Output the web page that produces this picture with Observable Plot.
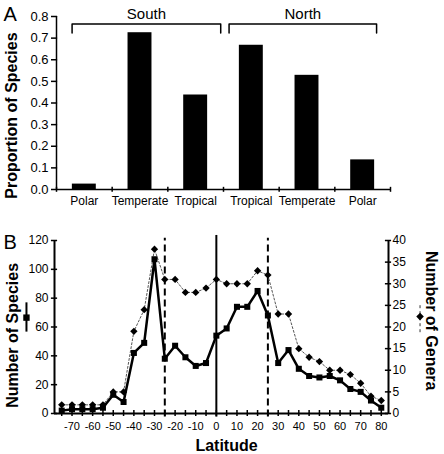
<!DOCTYPE html>
<html><head><meta charset="utf-8">
<script src="https://cdn.jsdelivr.net/npm/d3@7"></script>
<script src="https://cdn.jsdelivr.net/npm/@observablehq/plot@0.6"></script>
<style>body{margin:0;background:#fff} svg{display:block}</style>
</head><body><div id="chart"></div>
<script>
// Panel A data
const regions = ["Polar", "Temperate", "Tropical", "Tropical", "Temperate", "Polar"];
const hemispheres = ["South", "North"];
const proportions = [0.025, 0.725, 0.437, 0.667, 0.528, 0.137];
const propTicks = [0, 0.1, 0.2, 0.3, 0.4, 0.5, 0.6, 0.7, 0.8];

// Panel B data
const latitudes = [-75, -70, -65, -60, -55, -50, -45, -40, -35, -30, -25, -20, -15, -10, -5, 0, 5, 10, 15, 20, 25, 30, 35, 40, 45, 50, 55, 60, 65, 70, 75, 80];
const species = [2, 3, 3, 3, 4, 13, 8, 42, 49, 107, 38, 47, 39, 33, 35, 54, 59, 74, 74, 85, 68, 35, 44, 31, 26, 25, 26, 23, 17, 15, 9, 4];
const genera = [2, 2, 2, 2, 2, 5, 5, 19, 24, 38, 31, 31, 28, 28, 29, 31, 30, 30, 30, 33, 32, 23, 23, 15, 13, 12, 10, 10, 9, 7, 4, 3];
const speciesTicks = [0, 20, 40, 60, 80, 100, 120];
const generaTicks = [0, 5, 10, 15, 20, 25, 30, 35, 40];
const latLabels = [-70, -60, -50, -40, -30, -20, -10, 0, 10, 20, 30, 40, 50, 60, 70, 80];
const latTicks = [-75, -70, -65, -60, -55, -50, -45, -40, -35, -30, -25, -20, -15, -10, -5, 0, 5, 10, 15, 20, 25, 30, 35, 40, 45, 50, 55, 60, 65, 70, 75, 80];
const tropicLines = [-25, 25];

const font = "'Liberation Sans', Arial, Helvetica, sans-serif";
const black = "#000";

// ---------- Panel A ----------
const bars = regions.map((r, i) => ({i, region: r, value: proportions[i]}));
const brackets = [
  {h: hemispheres[0], x1: 0.28, x2: 2.95},
  {h: hemispheres[1], x1: 3.1, x2: 5.75}
];
const bracketPts = brackets.flatMap(b => [[b.x1, 0.724], [b.x1, 0.765], [b.x2, 0.765], [b.x2, 0.724]].map(([x, y]) => ({h: b.h, x, y})));

const A = Plot.plot({
  width: 444, height: 225,
  marginLeft: 56, marginRight: 54, marginTop: 16, marginBottom: 36,
  style: {fontFamily: font, fontSize: "12px", color: black, background: "#fff", overflow: "visible"},
  x: {domain: [0, 6], axis: null},
  y: {domain: [0, 0.8], axis: null},
  marks: [
    Plot.rectY(bars, {x1: d => d.i + 0.285, x2: d => d.i + 0.715, y: "value", fill: black}),
    Plot.ruleX([0], {y1: 0, y2: 0.8, stroke: black, strokeWidth: 1.5}),
    Plot.ruleY([0], {x1: 0, x2: 6, stroke: black, strokeWidth: 1.5}),
    Plot.ruleX(d3.range(7), {y1: -0.013, y2: 0.01, stroke: black, strokeWidth: 1.5}),
    Plot.ruleY(propTicks, {x1: -0.09, x2: 0.02, stroke: black, strokeWidth: 1.5}),
    Plot.axisY({ticks: propTicks, label: null, tickSize: 0, tickPadding: 8, tickFormat: d3.format(".1f"), fontSize: 13}),
    Plot.axisX({ticks: regions.map((r, i) => i + 0.5), label: null, tickSize: 0, tickPadding: 7, tickFormat: d => regions[Math.floor(d)], fontSize: 12}),
    Plot.line(bracketPts, {x: "x", y: "y", z: "h", stroke: black, strokeWidth: 1.5}),
    Plot.text(brackets, {x: d => (d.x1 + d.x2) / 2, y: 0.8, text: "h", fontSize: 15, lineAnchor: "bottom", dy: 2}),
    Plot.text(["Proportion of Species"], {frameAnchor: "left", text: d => d, rotate: -90, dx: -40, dy: 12.5, fontWeight: "bold", fontSize: 16, lineAnchor: "bottom", textAnchor: "middle"}),
    Plot.text(["A"], {frameAnchor: "top-left", text: d => d, dx: -53, dy: 4, fontSize: 20, lineAnchor: "bottom", textAnchor: "start"})
  ]
});

// ---------- Panel B ----------
const spData = latitudes.map((lat, i) => ({lat, n: species[i]}));
const geData = latitudes.map((lat, i) => ({lat, n: genera[i]}));
const xMin = -78.5, xMax = 83.5;
const ratio = 120 / 40; // right axis (genera) mapped onto species scale

const B = Plot.plot({
  width: 444, height: 229,
  marginLeft: 54, marginRight: 56, marginTop: 15, marginBottom: 41,
  style: {fontFamily: font, fontSize: "12px", color: black, background: "#fff", overflow: "visible"},
  x: {domain: [xMin, xMax], axis: null},
  y: {domain: [0, 120], axis: null},
  marks: [
    Plot.ruleX([0], {y1: -2.5, y2: 123.5, stroke: black, strokeWidth: 2}),
    Plot.ruleX(tropicLines, {y1: -2.5, y2: 121.5, stroke: black, strokeWidth: 2, strokeDasharray: "7,4"}),
    Plot.line(geData, {x: "lat", y: d => d.n * ratio, stroke: "#555", strokeWidth: 1, strokeDasharray: "2,2"}),
    Plot.dot(geData, {x: "lat", y: d => d.n * ratio, symbol: "diamond2", r: 3.3, fill: black, stroke: "none"}),
    Plot.line(spData, {x: "lat", y: "n", stroke: black, strokeWidth: 2.5}),
    Plot.dot(spData, {x: "lat", y: "n", symbol: "square", r: 3.4, fill: black, stroke: "none"}),
    // frame
    Plot.ruleX([xMin, xMax], {y1: 0, y2: 120, stroke: black, strokeWidth: 2}),
    Plot.ruleY([0], {x1: xMin, x2: xMax, stroke: black, strokeWidth: 2}),
    Plot.ruleY(speciesTicks, {x1: xMin - 1.5, x2: xMin + 1.5, stroke: black, strokeWidth: 1.5}),
    Plot.ruleY(generaTicks.map(g => g * ratio), {x1: xMax - 1.5, x2: xMax + 1.5, stroke: black, strokeWidth: 1.5}),
    Plot.ruleX(latTicks, {y1: -2.1, y2: 2.1, stroke: black, strokeWidth: 1.5}),
    Plot.axisY({ticks: speciesTicks, label: null, tickSize: 0, tickPadding: 6, fontSize: 12, tickFormat: d => String(d)}),
    Plot.axisY({anchor: "right", label: null, ticks: generaTicks.map(g => g * ratio), tickFormat: d => String(d / ratio), tickSize: 0, tickPadding: 4, fontSize: 12}),
    Plot.axisX({ticks: latLabels, label: null, tickSize: 0, tickPadding: 9, fontSize: 11, tickFormat: d => String(d)}),
    // legend glyphs beside axis titles
    Plot.link([0], {x1: -92.1, x2: -92.1, y1: 56.8, y2: 77.1, stroke: black, strokeWidth: 2}),
    Plot.dot([0], {x: -92.1, y: 66.5, symbol: "square", r: 3.6, fill: black, stroke: "none"}),
    Plot.link([0], {x1: 98.8, x2: 98.8, y1: 56.4, y2: 76.4, stroke: "#333", strokeWidth: 1, strokeDasharray: "3,3"}),
    Plot.dot([0], {x: 98.8, y: 67.2, symbol: "diamond2", r: 3.4, fill: black, stroke: "none"}),
    Plot.text(["Number of Species"], {frameAnchor: "left", text: d => d, rotate: -90, dx: -37, dy: 8.4, fontWeight: "bold", fontSize: 16, lineAnchor: "bottom", textAnchor: "middle"}),
    Plot.text(["Number of Genera"], {frameAnchor: "right", text: d => d, rotate: 90, dx: 37, dy: -6.3, fontWeight: "bold", fontSize: 16, lineAnchor: "bottom", textAnchor: "middle"}),
    Plot.text(["Latitude"], {frameAnchor: "bottom", text: d => d, dx: 5, dy: 37.3, fontWeight: "bold", fontSize: 16, lineAnchor: "bottom"}),
    Plot.text(["B"], {frameAnchor: "top-left", text: d => d, dx: -51, dy: 8, fontSize: 20, lineAnchor: "bottom", textAnchor: "start"})
  ]
});

const chart = document.getElementById("chart");
chart.append(A, B);
</script>
</body></html>
